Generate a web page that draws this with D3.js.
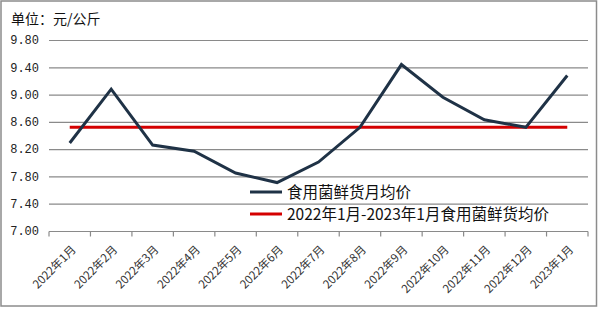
<!DOCTYPE html>
<html>
<head>
<meta charset="utf-8">
<script src="https://cdn.jsdelivr.net/npm/d3@7"></script>
<style>
  body { margin: 0; background: #fff; }
  svg { display: block; }
</style>
</head>
<body>
<svg></svg>
<script>
// Data
const months = ["2022年1月", "2022年2月", "2022年3月", "2022年4月", "2022年5月", "2022年6月",
  "2022年7月", "2022年8月", "2022年9月", "2022年10月", "2022年11月", "2022年12月", "2023年1月"];
const monthly = [8.29, 9.08, 8.26, 8.17, 7.85, 7.71, 8.01, 8.52, 9.44, 8.96, 8.63, 8.52, 9.28];
const average = 8.52;
const yTicks = [7.0, 7.4, 7.8, 8.2, 8.6, 9.0, 9.4, 9.8];
const seriesNames = ["食用菌鲜货月均价", "2022年1月-2023年1月食用菌鲜货均价"];
const colors = ["#1f3246", "#d40000"];

const W = 600, H = 309;
const margin = {top: 40, right: 12, bottom: 78, left: 49},
    width = 588 - margin.left,
    height = 231 - margin.top;

const root = d3.select("svg")
    .attr("width", W)
    .attr("height", H);

// outer frame
root.append("rect")
    .attr("x", 1).attr("y", 1)
    .attr("width", 595.5).attr("height", 305)
    .attr("fill", "#fff")
    .attr("stroke", "#8c8c8c")
    .attr("stroke-width", 1.5);

root.append("text")
    .attr("x", 11)
    .attr("y", 24)
    .style("font-family", "'Noto Sans CJK SC', sans-serif")
    .style("font-size", "14px")
    .attr("fill", "#111")
    .text("单位：元/公斤");

const svg = root.append("g")
    .attr("transform", `translate(${margin.left},${margin.top})`);

// Scales
const x = d3.scaleBand()
    .domain(months)
    .range([0, width]);

const y = d3.scaleLinear()
    .domain([7.0, 9.8])
    .range([height, 0]);

// Gridlines
svg.append("g")
  .selectAll("line")
  .data(yTicks.slice(1))
  .enter()
  .append("line")
    .attr("x1", 0)
    .attr("x2", width)
    .attr("y1", d => y(d) + 0.5)
    .attr("y2", d => y(d) + 0.5)
    .attr("stroke", "#8a8a8a")
    .attr("stroke-width", 1.2);

// Y axis labels
const yAxis = svg.append("g")
    .call(d3.axisLeft(y).tickValues(yTicks).tickSize(0).tickPadding(10).tickFormat(d3.format(".2f")));
yAxis.select(".domain").remove();
yAxis.selectAll("text")
    .style("font-family", "'Liberation Mono', 'DejaVu Sans Mono', monospace")
    .style("font-size", "12px")
    .attr("fill", "#222");

// X axis with ticks at band edges
const xAxis = svg.append("g")
    .attr("transform", `translate(0,${height + 0.5})`);
xAxis.append("line")
    .attr("x1", 0).attr("x2", width)
    .attr("stroke", "#8a8a8a").attr("stroke-width", 1.2);
xAxis.selectAll(".tk")
  .data(months.concat(["end"]))
  .enter()
  .append("line")
    .attr("class", "tk")
    .attr("x1", (d, i) => i < months.length ? x(d) : width)
    .attr("x2", (d, i) => i < months.length ? x(d) : width)
    .attr("y1", 0).attr("y2", 5)
    .attr("stroke", "#8a8a8a").attr("stroke-width", 1.2);

xAxis.selectAll(".lbl")
  .data(months)
  .enter()
  .append("text")
    .attr("class", "lbl")
    .attr("transform", d => `translate(${x(d) + x.bandwidth() / 2 + 4},${16}) rotate(-45)`)
    .attr("text-anchor", "end")
    .attr("dy", "0.35em")
    .style("font-family", "'Noto Sans CJK SC', sans-serif")
    .style("font-size", "11.5px")
    .attr("fill", "#333")
    .text(d => d);

const cx = d => x(d) + x.bandwidth() / 2;

// Average line
svg.append("line")
    .attr("x1", cx(months[0]))
    .attr("x2", cx(months[months.length - 1]))
    .attr("y1", y(average))
    .attr("y2", y(average))
    .attr("stroke", colors[1])
    .attr("stroke-width", 3);

// Monthly line
const line = d3.line()
    .x((d, i) => cx(months[i]))
    .y(d => y(d));

svg.append("path")
    .datum(monthly)
    .attr("d", line)
    .attr("fill", "none")
    .attr("stroke", colors[0])
    .attr("stroke-width", 3)
    .attr("stroke-linejoin", "miter");

// Legend
const legend = root.append("g")
    .attr("transform", "translate(250,192)");
seriesNames.forEach((name, i) => {
  const row = legend.append("g").attr("transform", `translate(0,${i * 22})`);
  row.append("line")
      .attr("x1", 0).attr("x2", 32)
      .attr("stroke", colors[i])
      .attr("stroke-width", 3);
  row.append("text")
      .attr("x", 37)
      .attr("dy", "0.36em")
      .style("font-family", "'Noto Sans CJK SC', sans-serif")
      .style("font-size", "15.5px")
      .attr("fill", "#111")
      .text(name);
});
</script>
</body>
</html>
